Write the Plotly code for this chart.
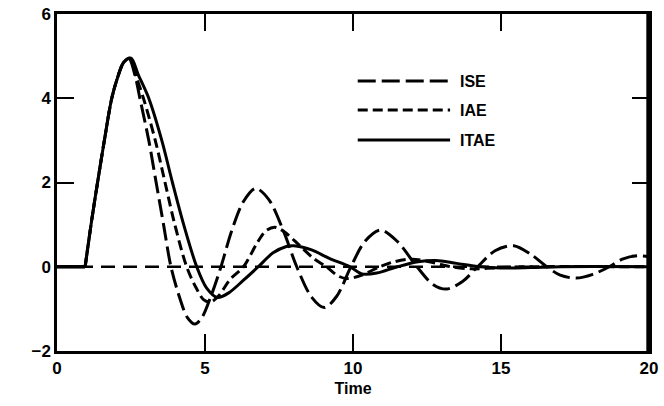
import plotly.graph_objects as go

# shared rising part (dead time then rise)
t_rise = [0, 0.95, 1.15, 1.37, 1.6, 1.85, 2.05, 2.25]
y_rise = [0, 0, 1.0, 2.0, 3.0, 4.0, 4.5, 4.85]

t_ise = [2.43, 2.65, 2.8, 3.1, 3.35, 3.6, 3.85, 4.15, 4.4, 4.66, 4.9, 5.2, 5.54, 5.9, 6.3, 6.71,
         7.15, 7.65, 8.1, 8.6, 9.03, 9.45, 9.93, 10.4, 10.93, 11.5, 12.16, 12.7, 13.16, 13.7,
         14.21, 14.8, 15.43, 16.0, 16.55, 17.0, 17.54, 18.1, 18.66, 19.1, 19.6, 20.0]
y_ise = [4.95, 4.5, 4.0, 3.0, 2.0, 1.0, 0.0, -0.75, -1.2, -1.36, -1.2, -0.7, 0.0, 0.85, 1.55, 1.86,
         1.6, 0.85, 0.0, -0.72, -0.97, -0.7, 0.0, 0.6, 0.87, 0.6, 0.0, -0.42, -0.53, -0.35,
         0.0, 0.38, 0.5, 0.3, 0.0, -0.2, -0.27, -0.18, 0.0, 0.18, 0.26, 0.24]

t_iae = [2.45, 2.68, 2.92, 3.32, 3.65, 3.98, 4.38, 4.7, 4.95, 5.18, 5.45, 5.85, 6.3, 6.75, 7.05,
         7.35, 7.7, 8.2, 8.7, 9.1, 9.5, 9.8, 10.3, 10.9, 11.4, 12.0, 12.7, 13.3, 14.0, 15.0, 16.0, 20.0]
y_iae = [4.95, 4.5, 4.0, 3.0, 2.0, 1.0, 0.0, -0.5, -0.78, -0.84, -0.7, -0.3, 0.0, 0.55, 0.85,
         0.94, 0.82, 0.5, 0.18, 0.0, -0.22, -0.28, -0.2, 0.0, 0.12, 0.18, 0.1, 0.0, -0.05, -0.02, 0.0, 0.0]

t_itae = [2.5, 2.75, 3.1, 3.54, 3.9, 4.28, 4.72, 5.05, 5.42, 5.8, 6.3, 6.8, 7.3, 7.75, 8.0, 8.6,
          9.2, 9.9, 10.3, 10.8, 11.5, 12.2, 12.8, 13.5, 14.3, 15.0, 16.0, 17.0, 20.0]
y_itae = [4.95, 4.55, 4.0, 3.0, 2.0, 1.0, 0.0, -0.5, -0.73, -0.62, -0.32, 0.0, 0.33, 0.48, 0.5, 0.4,
          0.2, 0.0, -0.17, -0.15, 0.0, 0.12, 0.15, 0.08, 0.0, -0.03, -0.02, 0.0, 0.0]

series_names = ["ISE", "IAE", "ITAE"]
x_ticks = [0, 5, 10, 15, 20]
y_ticks = [-2, 0, 2, 4, 6]

dashes = {"ISE": "18px,6px", "IAE": "10px,5px", "ITAE": "solid"}
data = {"ISE": (t_ise, y_ise), "IAE": (t_iae, y_iae), "ITAE": (t_itae, y_itae)}

fig = go.Figure()

# zero reference line
fig.add_shape(type="line", xref="x", yref="y", x0=0, x1=20, y0=0, y1=0,
              line=dict(color="black", width=2.5, dash="14px,8px"), layer="below")
# right frame edge (explicit, slightly inside the domain edge)
fig.add_shape(type="line", xref="paper", yref="paper", x0=0.998, x1=0.998, y0=0, y1=1,
              line=dict(color="black", width=3), layer="above")

for name in series_names:
    tt, yy = data[name]
    t_all = t_rise + tt
    y_all = y_rise + yy
    # flat dead-time part
    fig.add_trace(go.Scatter(x=t_all[:2], y=y_all[:2], mode="lines",
                             line=dict(color="black", width=3), showlegend=False, hoverinfo="skip"))
    fig.add_trace(go.Scatter(x=t_all[1:], y=y_all[1:], mode="lines", name=name,
                             line=dict(color="black", width=3, dash=dashes[name], shape="spline",
                                       smoothing=0.9),
                             showlegend=False))

# manual legend (decoration)
leg_y = [0.801, 0.715, 0.626]
for name, ly in zip(series_names, leg_y):
    fig.add_shape(type="line", xref="paper", yref="paper", x0=0.508, x1=0.664, y0=ly, y1=ly,
                  line=dict(color="black", width=3, dash=dashes[name]))
    fig.add_annotation(xref="paper", yref="paper", x=0.678, y=ly, text=name, showarrow=False,
                       xanchor="left", yanchor="middle",
                       font=dict(family="Liberation Sans", size=16, color="black", weight="bold"))

axis_common = dict(showline=True, mirror="ticks", linecolor="black", linewidth=2.5,
                   ticks="inside", ticklen=17, tickwidth=2, tickcolor="black",
                   showgrid=False, zeroline=False,
                   ticklabeloverflow="allow",
                   tickfont=dict(family="Liberation Sans", size=17, color="black", weight="bold"))

fig.update_xaxes(range=[0, 20], tickvals=x_ticks, ticktext=[str(v) for v in x_ticks],
                 automargin="bottom",
                 title=dict(text="Time", standoff=6,
                            font=dict(family="Liberation Sans", size=16, color="black", weight="bold")),
                 **axis_common)
fig.update_yaxes(range=[-2, 6], tickvals=y_ticks, ticktext=[("\u2212" + str(-v)) if v < 0 else str(v) for v in y_ticks],
                 automargin="left",
                 **axis_common)

fig.update_layout(width=664, height=406, margin=dict(l=57, r=15, t=14, b=55),
                  plot_bgcolor="white", paper_bgcolor="white", showlegend=False)

fig.write_html("out.html")
